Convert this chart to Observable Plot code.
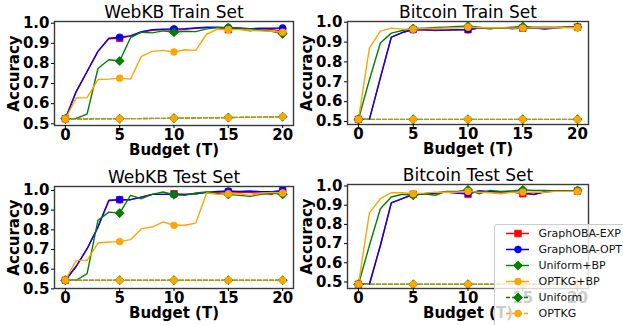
<!DOCTYPE html>
<html>
<head>
<meta charset="utf-8">
<script src="https://cdn.jsdelivr.net/npm/d3@7"></script>
<script src="https://cdn.jsdelivr.net/npm/@observablehq/plot@0.6"></script>
<style>
  body { margin: 0; background: #fff; font-family: "DejaVu Sans", sans-serif; }
  #wrap { position: relative; width: 623px; height: 325px; overflow: hidden; background: #fff; }
  #wrap svg { position: absolute; overflow: visible; }
</style>
</head>
<body>
<div id="wrap"></div>
<script>
// ---------- data ----------
const budget = [0,1,2,3,4,5,6,7,8,9,10,11,12,13,14,15,16,17,18,19,20];
const xTicks = [0,5,10,15,20];
const yTicks = [0.5,0.6,0.7,0.8,0.9,1.0];

const seriesNames   = ["GraphOBA-EXP","GraphOBA-OPT","Uniform+BP","OPTKG+BP","Uniform","OPTKG"];
const seriesColors  = ["red","blue","green","orange","green","orange"];
const seriesSymbols = ["square","circle","diamond2","circle","diamond2","circle"];
const seriesDashed  = [false,false,false,false,true,true];

const panelTitles = ["WebKB Train Set","Bitcoin Train Set","WebKB Test Set","Bitcoin Test Set"];

// WebKB train
const webkbTrainExp    = [0.525,0.66,0.76,0.86,0.922,0.925,0.937,0.955,0.965,0.968,0.965,0.97,0.975,0.978,0.978,0.968,0.972,0.962,0.972,0.968,0.962];
const webkbTrainOpt    = [0.525,0.66,0.76,0.86,0.925,0.93,0.937,0.958,0.968,0.97,0.972,0.973,0.976,0.98,0.98,0.978,0.976,0.973,0.975,0.975,0.976];
const webkbTrainUniBP  = [0.525,0.527,0.548,0.775,0.818,0.812,0.928,0.955,0.952,0.962,0.955,0.96,0.958,0.972,0.978,0.978,0.972,0.972,0.965,0.96,0.947];
const webkbTrainOptkgBP= [0.525,0.628,0.63,0.72,0.722,0.727,0.722,0.835,0.86,0.865,0.857,0.868,0.865,0.945,0.97,0.968,0.968,0.965,0.962,0.96,0.955];
const webkbTrainUni    = [0.524,0.524,0.524,0.525,0.525,0.525,0.526,0.526,0.527,0.527,0.528,0.529,0.529,0.53,0.53,0.531,0.532,0.533,0.533,0.534,0.535];
const webkbTrainOptkg  = [0.524,0.524,0.524,0.525,0.525,0.525,0.526,0.526,0.527,0.527,0.528,0.529,0.529,0.53,0.53,0.531,0.532,0.533,0.533,0.534,0.535];

// Bitcoin train
const btcTrainExp    = [0.511,0.511,0.72,0.925,0.948,0.963,0.962,0.958,0.96,0.962,0.962,0.97,0.968,0.972,0.968,0.97,0.972,0.968,0.972,0.975,0.975];
const btcTrainOpt    = [0.511,0.511,0.72,0.925,0.948,0.963,0.962,0.96,0.96,0.962,0.963,0.97,0.968,0.972,0.968,0.97,0.972,0.965,0.97,0.975,0.975];
const btcTrainUniBP  = [0.511,0.71,0.895,0.945,0.958,0.968,0.97,0.973,0.975,0.978,0.98,0.975,0.968,0.97,0.975,0.978,0.975,0.975,0.975,0.975,0.975];
const btcTrainOptkgBP= [0.511,0.87,0.955,0.97,0.965,0.965,0.968,0.968,0.97,0.972,0.975,0.972,0.972,0.972,0.97,0.97,0.972,0.972,0.972,0.972,0.972];
const btcTrainUni    = [0.511,0.511,0.511,0.511,0.511,0.511,0.511,0.511,0.511,0.511,0.511,0.511,0.511,0.511,0.511,0.511,0.511,0.511,0.511,0.511,0.511];
const btcTrainOptkg  = [0.511,0.511,0.511,0.511,0.511,0.511,0.511,0.511,0.511,0.511,0.511,0.511,0.511,0.511,0.511,0.511,0.511,0.511,0.511,0.511,0.511];

// WebKB test
const webkbTestExp    = [0.544,0.615,0.704,0.814,0.948,0.953,0.953,0.966,0.98,0.98,0.983,0.98,0.983,0.99,0.99,0.993,0.99,0.99,0.985,0.98,1.0];
const webkbTestOpt    = [0.544,0.615,0.704,0.814,0.95,0.953,0.953,0.966,0.98,0.98,0.98,0.98,0.983,0.99,0.995,0.997,0.995,0.997,0.993,0.993,1.0];
const webkbTestUniBP  = [0.544,0.544,0.578,0.848,0.89,0.885,0.975,0.958,0.98,0.992,0.978,0.975,0.987,0.992,0.985,0.98,0.975,0.97,0.98,0.987,0.98];
const webkbTestOptkgBP= [0.544,0.645,0.645,0.733,0.738,0.74,0.75,0.806,0.814,0.84,0.823,0.823,0.834,0.987,0.98,0.983,0.983,0.975,0.985,0.99,0.987];
const webkbTestUni    = [0.544,0.544,0.544,0.544,0.544,0.544,0.544,0.544,0.544,0.544,0.544,0.544,0.544,0.544,0.544,0.544,0.544,0.544,0.544,0.544,0.544];
const webkbTestOptkg  = [0.544,0.544,0.544,0.544,0.544,0.544,0.544,0.544,0.544,0.544,0.544,0.544,0.544,0.544,0.544,0.544,0.544,0.544,0.544,0.544,0.544];

// Bitcoin test
const btcTestExp    = [0.488,0.488,0.69,0.912,0.934,0.957,0.96,0.964,0.969,0.964,0.957,0.974,0.97,0.97,0.97,0.96,0.957,0.97,0.974,0.974,0.974];
const btcTestOpt    = [0.488,0.488,0.69,0.912,0.934,0.957,0.96,0.964,0.969,0.964,0.962,0.974,0.97,0.97,0.97,0.966,0.955,0.97,0.974,0.974,0.974];
const btcTestUniBP  = [0.488,0.69,0.882,0.943,0.957,0.952,0.96,0.952,0.972,0.972,0.98,0.96,0.977,0.972,0.975,0.98,0.977,0.977,0.975,0.975,0.977];
const btcTestOptkgBP= [0.488,0.86,0.934,0.965,0.965,0.96,0.963,0.968,0.968,0.968,0.972,0.968,0.965,0.96,0.968,0.968,0.968,0.968,0.972,0.972,0.972];
const btcTestUni    = [0.488,0.488,0.488,0.488,0.488,0.488,0.488,0.488,0.488,0.488,0.488,0.488,0.488,0.488,0.488,0.488,0.488,0.488,0.488,0.488,0.488];
const btcTestOptkg  = [0.488,0.488,0.488,0.488,0.488,0.488,0.488,0.488,0.488,0.488,0.488,0.488,0.488,0.488,0.488,0.488,0.488,0.488,0.488,0.488,0.488];

// ---------- drawing ----------
const wrap = document.getElementById("wrap");
const FONT = "DejaVu Sans";

function symbolR(sym) {
  return sym === "square" ? 3.7 : sym === "diamond2" ? 4.1 : 3.4;
}

function seriesMarks(k, d) {
  const marks = [];
  const color = seriesColors[k];
  const op = (seriesDashed[k] && color === "orange") ? 0.7 : 1;
  marks.push(Plot.line(d, {
    x: "budget", y: "acc", stroke: color, strokeWidth: 1.4, strokeOpacity: op,
    strokeDasharray: seriesDashed[k] ? "4,2" : null
  }));
  marks.push(Plot.dot(d.filter(r => r.budget % 5 === 0), {
    x: "budget", y: "acc", symbol: seriesSymbols[k], r: symbolR(seriesSymbols[k]),
    fill: color, stroke: color, strokeWidth: 0.8
  }));
  return marks;
}

function drawPanel(p) {
  const marks = [];
  p.series.forEach((vals, k) => {
    const d = vals.map((v, i) => ({budget: budget[i], acc: v}));
    marks.push(...seriesMarks(k, d));
  });
  const plot = Plot.plot({
    width: p.width, height: p.height,
    marginLeft: p.frame[0] - p.left,
    marginRight: p.left + p.width - p.frame[1],
    marginTop: p.frame[2] - p.top,
    marginBottom: p.top + p.height - p.frame[3],
    style: {fontFamily: FONT, background: "transparent", color: "black", overflow: "visible"},
    x: {domain: [-1, 21]},
    y: {domain: p.yDomain},
    marks: [
      ...marks,
      Plot.frame({stroke: "#3a3a3a", strokeWidth: 1.4}),
      Plot.axisX({ticks: xTicks, tickSize: 3, tickPadding: 1, fontSize: 15, fontWeight: "bold", label: null}),
      Plot.axisY({ticks: yTicks, tickSize: 3, tickPadding: 2, fontSize: 15, fontWeight: "bold", label: null,
                  tickFormat: d => d.toFixed(1)}),
      Plot.text([p.title], {frameAnchor: "top", dy: -4, lineAnchor: "bottom", fontSize: 17}),
      Plot.text(["Budget (T)"], {frameAnchor: "bottom", dy: 29, lineAnchor: "bottom", fontSize: 15, fontWeight: "bold"}),
      Plot.text(["Accuracy"], {frameAnchor: "left", dx: -40, rotate: -90, textAnchor: "middle", lineAnchor: "middle",
                 fontSize: 15, fontWeight: "bold"})
    ]
  });
  plot.style.left = p.left + "px";
  plot.style.top = p.top + "px";
  wrap.appendChild(plot);
}

drawPanel({title: panelTitles[0], left: 0, top: 0, width: 311, height: 162,
  frame: [54, 293, 21, 125], yDomain: [0.4916, 1.0084],
  series: [webkbTrainExp, webkbTrainOpt, webkbTrainUniBP, webkbTrainOptkgBP, webkbTrainUni, webkbTrainOptkg]});
drawPanel({title: panelTitles[1], left: 311, top: 0, width: 312, height: 162,
  frame: [347, 588, 21, 124], yDomain: [0.485, 1.0035],
  series: [btcTrainExp, btcTrainOpt, btcTrainUniBP, btcTrainOptkgBP, btcTrainUni, btcTrainOptkg]});
drawPanel({title: panelTitles[2], left: 0, top: 162, width: 311, height: 163,
  frame: [54, 293, 186, 288], yDomain: [0.502, 1.02],
  series: [webkbTestExp, webkbTestOpt, webkbTestUniBP, webkbTestOptkgBP, webkbTestUni, webkbTestOptkg]});
drawPanel({title: panelTitles[3], left: 311, top: 162, width: 312, height: 163,
  frame: [347, 588, 184, 288], yDomain: [0.466, 1.008],
  series: [btcTestExp, btcTestOpt, btcTestUniBP, btcTestOptkgBP, btcTestUni, btcTestOptkg]});

// ---------- legend ----------
(function () {
  const rows = seriesNames.map((name, k) => ({name, k}));
  const marks = [];
  rows.forEach(r => {
    const one = [r];
    const color = seriesColors[r.k];
    marks.push(Plot.ruleY(one, {y: "name", x1: 0, x2: 1, stroke: color, strokeWidth: 1.4,
      strokeDasharray: seriesDashed[r.k] ? "4,2" : null}));
    marks.push(Plot.dot(one, {y: "name", x: 0.5, symbol: seriesSymbols[r.k], r: symbolR(seriesSymbols[r.k]),
      fill: color, stroke: color, strokeWidth: 0.8}));
    marks.push(Plot.text(one, {y: "name", x: 1, dx: 9, text: "name", textAnchor: "start", fontSize: 11, fill: "#111"}));
  });
  const leg = Plot.plot({
    width: 140, height: 110,
    marginLeft: 11, marginRight: 106, marginTop: 8, marginBottom: 22,
    style: {fontFamily: FONT, background: "rgba(255,255,255,0.8)", overflow: "visible"},
    x: {domain: [0, 1], axis: null},
    y: {type: "point", domain: seriesNames, padding: 0, axis: null},
    marks
  });
  leg.style.left = "494px";
  leg.style.top = "224px";
  leg.style.border = "1px solid #cccccc";
  leg.style.borderRadius = "3px";
  leg.style.overflow = "hidden";
  wrap.appendChild(leg);
})();
</script>
</body>
</html>
